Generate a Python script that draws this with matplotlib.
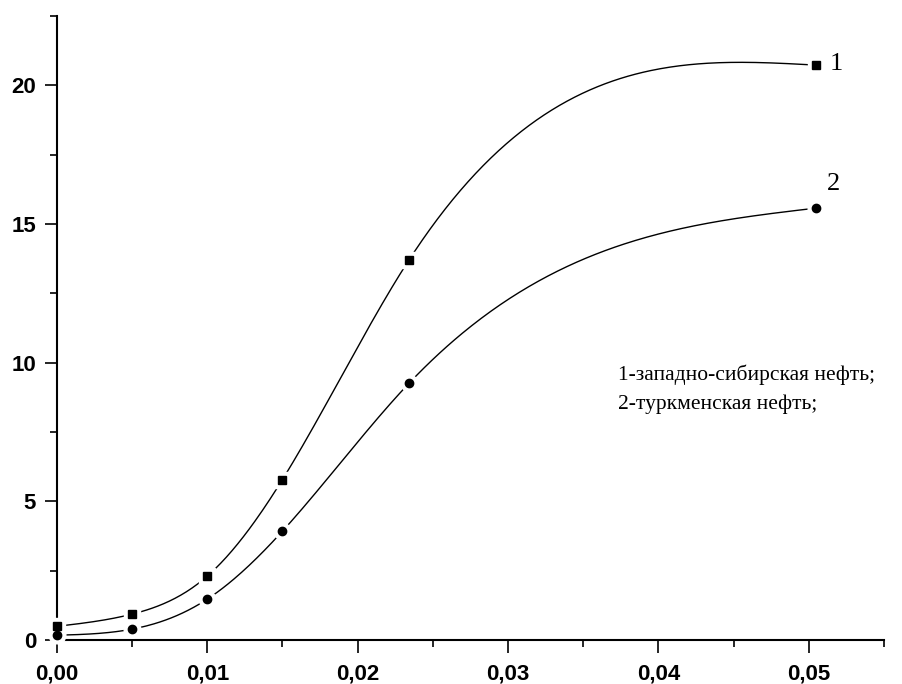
import numpy as np
import matplotlib
matplotlib.use("Agg")
import matplotlib.pyplot as plt
from matplotlib.ticker import MultipleLocator, FixedLocator

# measured points
x_pts = [0.0, 0.005, 0.010, 0.015, 0.0234, 0.0505]
y_west_siberian = [0.50, 0.94, 2.31, 5.79, 13.69, 20.72]
y_turkmen = [0.18, 0.40, 1.48, 3.93, 9.25, 15.57]

x_ticks = [0.0, 0.01, 0.02, 0.03, 0.04, 0.05]
x_tick_labels = ['0,00', '0,01', '0,02', '0,03', '0,04', '0,05']
y_ticks = [0, 5, 10, 15, 20]
y_tick_labels = ['0', '5', '10', '15', '20']

legend_lines = ['1-западно-сибирская нефть;', '2-туркменская нефть;']


def natural_spline(x, y, xs):
    # natural cubic spline through the points (Origin-like "spline" connect)
    x = np.asarray(x, float)
    y = np.asarray(y, float)
    n = len(x)
    h = np.diff(x)
    A = np.zeros((n, n))
    b = np.zeros(n)
    A[0, 0] = A[-1, -1] = 1.0
    for i in range(1, n - 1):
        A[i, i - 1] = h[i - 1]
        A[i, i] = 2 * (h[i - 1] + h[i])
        A[i, i + 1] = h[i]
        b[i] = 6 * ((y[i + 1] - y[i]) / h[i] - (y[i] - y[i - 1]) / h[i - 1])
    M = np.linalg.solve(A, b)
    out = np.empty_like(xs)
    for k, t in enumerate(xs):
        i = min(max(np.searchsorted(x, t) - 1, 0), n - 2)
        a = x[i + 1] - t
        c = t - x[i]
        out[k] = (M[i] * a**3 + M[i + 1] * c**3) / (6 * h[i]) \
            + (y[i] / h[i] - M[i] * h[i] / 6) * a \
            + (y[i + 1] / h[i] - M[i + 1] * h[i] / 6) * c
    return out


fig = plt.figure(figsize=(9.03, 6.84), dpi=100)
ax = fig.add_axes([0.063, 0.064, 0.916, 0.913])

xs = np.linspace(x_pts[0], x_pts[-1], 400)
for ys, mk, ms in [(y_west_siberian, 's', 5.3), (y_turkmen, 'o', 6.0)]:
    ax.plot(xs, natural_spline(x_pts, ys, xs), color='black', lw=1.0, zorder=2)
    # white halo gives the small gap between line and marker
    ax.plot(x_pts, ys, ls='none', marker=mk, ms=ms + 6, color='white', zorder=3,
            clip_on=False)
    ax.plot(x_pts, ys, ls='none', marker=mk, ms=ms, color='black', zorder=4,
            clip_on=False)

ax.text(0.0514, y_west_siberian[-1] + 0.05, '1', family='Liberation Serif',
        fontsize=19, va='center', ha='left')
ax.text(0.0512, y_turkmen[-1] + 0.85, '2', family='Liberation Serif',
        fontsize=19, va='center', ha='left')
ax.text(0.0373, 9.05, '\n'.join(legend_lines), family='Liberation Serif',
        fontsize=15.5, va='center', ha='left', linespacing=1.63)

ax.set_xlim(0, 0.055)
ax.set_ylim(0, 22.5)
ax.spines['top'].set_visible(False)
ax.spines['right'].set_visible(False)
for s in ('left', 'bottom'):
    ax.spines[s].set_linewidth(1.5)

ax.xaxis.set_major_locator(FixedLocator(x_ticks))
ax.set_xticklabels(x_tick_labels)
ax.yaxis.set_major_locator(FixedLocator(y_ticks))
ax.set_yticklabels(y_tick_labels)
ax.xaxis.set_minor_locator(MultipleLocator(0.005))
ax.yaxis.set_minor_locator(MultipleLocator(2.5))
ax.tick_params(which='major', direction='out', length=9, width=1.2)
ax.tick_params(which='minor', direction='out', length=5, width=1.2)
ax.tick_params(axis='x', which='major', pad=8)
ax.tick_params(axis='y', which='major', pad=6)
for lab in ax.get_xticklabels() + ax.get_yticklabels():
    lab.set_family('Liberation Sans')
    lab.set_fontweight('bold')
    lab.set_fontsize(16)

fig.savefig('out.png', dpi=100)
